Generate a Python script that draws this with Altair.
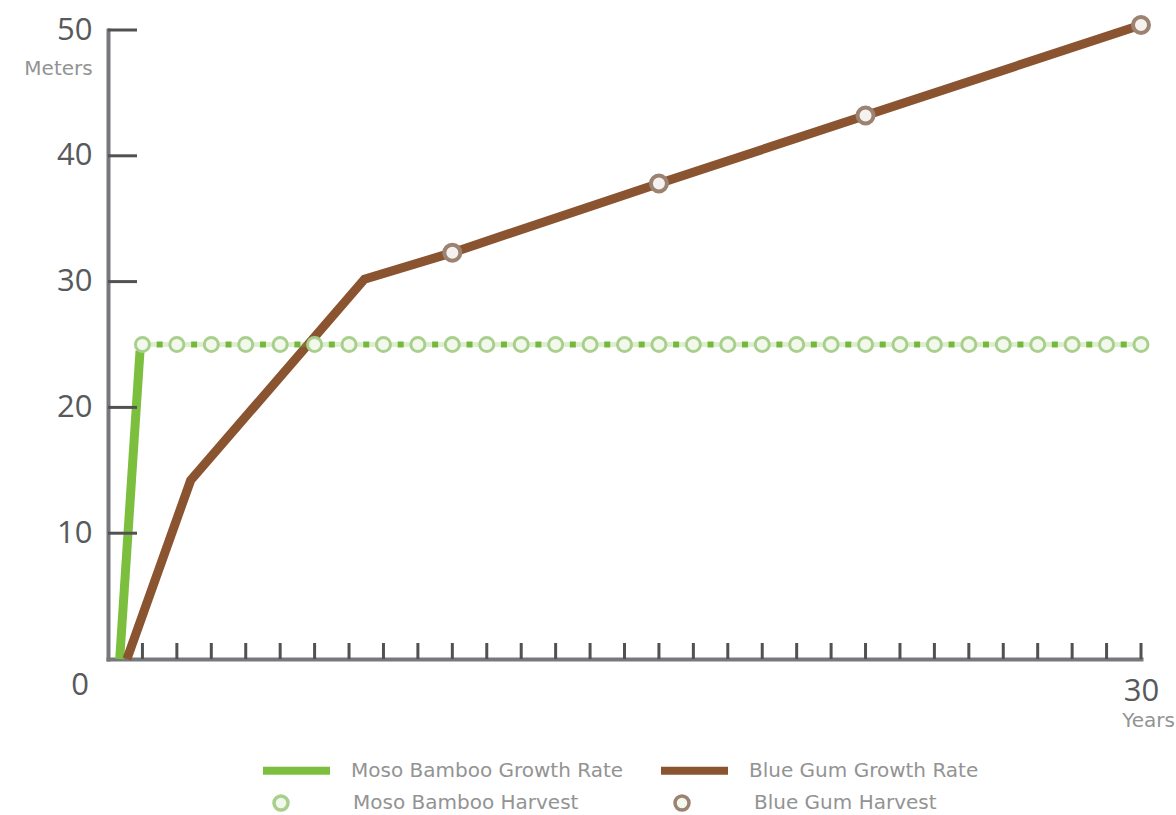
import altair as alt
import pandas as pd

# ---------------- data ----------------
years = [1, 2, 3, 4, 5, 6, 7, 8, 9, 10, 11, 12, 13, 14, 15,
         16, 17, 18, 19, 20, 21, 22, 23, 24, 25, 26, 27, 28, 29, 30]

bamboo_growth_year = [0.34, 0.93]
bamboo_growth_m = [0, 24.5]

bamboo_harvest_year = years
bamboo_harvest_m = [25, 25, 25, 25, 25, 25, 25, 25, 25, 25, 25, 25, 25, 25, 25,
                    25, 25, 25, 25, 25, 25, 25, 25, 25, 25, 25, 25, 25, 25, 25]

gum_growth_year = [0.55, 2.4, 7.45, 10, 16, 22, 30]
gum_growth_m = [0, 14.2, 30.2, 32.3, 37.8, 43.2, 50.4]

gum_harvest_year = [10, 16, 22, 30]
gum_harvest_m = [32.3, 37.8, 43.2, 50.4]

y_tick_values = [10, 20, 30, 40, 50]
x_tick_values = years
x_label_values = [30]
origin_label = ["0"]

growth_names = ["Moso Bamboo Growth Rate", "Blue Gum Growth Rate"]
harvest_names = ["Moso Bamboo Harvest", "Blue Gum Harvest"]

# ---------------- styling ----------------
GREEN = "#7cbf3f"
GREEN_DASH = "#74b83c"
BROWN = "#8a5430"
GREEN_RING = "#a9cf8d"
BROWN_RING = "#9c8270"
AXIS = "#77787b"
TICK = "#505153"
LABEL = "#58595b"
LEGEND_TEXT = "#939393"
NUM_FONT = "Open Sans"
TXT_FONT = "DejaVu Sans"

W, H = 1033, 629

growth_df = pd.concat([
    pd.DataFrame({"year": bamboo_growth_year, "m": bamboo_growth_m,
                  "series": growth_names[0], "i": range(len(bamboo_growth_year))}),
    pd.DataFrame({"year": gum_growth_year, "m": gum_growth_m,
                  "series": growth_names[1], "i": range(len(gum_growth_year))}),
])
bamboo_h_df = pd.DataFrame({"year": bamboo_harvest_year, "m": bamboo_harvest_m,
                            "series": harvest_names[0]})
gum_h_df = pd.DataFrame({"year": gum_harvest_year, "m": gum_harvest_m,
                         "series": harvest_names[1]})
ytick_df = pd.DataFrame({"m": y_tick_values})
xtick_df = pd.DataFrame({"year": x_tick_values})
origin_df = pd.DataFrame({"label": origin_label})

x_scale = alt.Scale(domain=[0, 30], nice=False, zero=True)
y_scale = alt.Scale(domain=[0, 50], nice=False, zero=True)

x_axis = alt.Axis(values=x_label_values, ticks=False, tickSize=0, grid=False,
                  domainColor=AXIS, domainWidth=4, domainCap="square",
                  labelFont=NUM_FONT, labelFontSize=31, labelColor=LABEL,
                  labelPadding=17, labelFlush=False,
                  title="Years", titleFont=TXT_FONT, titleFontSize=20,
                  titleFontWeight="normal", titleColor=LEGEND_TEXT,
                  titleAlign="center", titleBaseline="middle",
                  titleX=1040, titleY=61)
y_axis = alt.Axis(values=y_tick_values, ticks=False, tickSize=0, grid=False,
                  domainColor=AXIS, domainWidth=4, domainCap="square",
                  labelFont=NUM_FONT, labelFontSize=31, labelColor=LABEL,
                  labelPadding=16, labelFlush=False,
                  title="Meters", titleFont=TXT_FONT, titleFontSize=20,
                  titleFontWeight="normal", titleColor=LEGEND_TEXT,
                  titleAngle=0, titleAlign="center", titleBaseline="middle",
                  titleX=-50, titleY=38)

X = alt.X("year:Q", scale=x_scale, axis=x_axis)
Y = alt.Y("m:Q", scale=y_scale, axis=y_axis)

growth_legend = alt.Legend(title=None, orient="none", direction="horizontal",
                           legendX=151, legendY=703, padding=0,
                           symbolType="stroke", symbolSize=4489,
                           symbolStrokeWidth=8, labelOffset=17,
                           columnPadding=21,
                           labelFont=TXT_FONT, labelFontSize=20,
                           labelColor=LEGEND_TEXT, labelLimit=400)
harvest_legend = alt.Legend(title=None, orient="none", direction="horizontal",
                            legendX=163, legendY=763, padding=0,
                            symbolType="circle", symbolSize=196,
                            symbolStrokeWidth=3.5, symbolFillColor="white",
                            labelOffset=62, columnPadding=89,
                            labelFont=TXT_FONT, labelFontSize=20,
                            labelColor=LEGEND_TEXT, labelLimit=400)

growth_lines = alt.Chart(growth_df).mark_line(strokeWidth=9).encode(
    x=X, y=Y,
    color=alt.Color("series:N",
                    scale=alt.Scale(domain=growth_names, range=[GREEN, BROWN]),
                    legend=growth_legend),
    order="i:Q",
)

bamboo_faint = alt.Chart(bamboo_h_df).mark_line(
    color=GREEN, strokeWidth=5, opacity=0.25).encode(x=X, y=Y)
bamboo_dash = alt.Chart(bamboo_h_df).mark_line(
    color=GREEN_DASH, strokeWidth=6, strokeCap="butt",
    strokeDash=[6, 28.43], strokeDashOffset=20.2).encode(x=X, y=Y)

harvest_stroke = alt.Stroke("series:N",
                            scale=alt.Scale(domain=harvest_names,
                                            range=[GREEN_RING, BROWN_RING]),
                            legend=harvest_legend)

bamboo_pts = alt.Chart(bamboo_h_df).mark_point(
    shape="circle", size=196, strokeWidth=3, fill="#f3f8ec", opacity=1,
    filled=False).encode(x=X, y=Y, stroke=harvest_stroke)
gum_pts = alt.Chart(gum_h_df).mark_point(
    shape="circle", size=256, strokeWidth=4, fill="#f4f1ee", opacity=1,
    filled=False).encode(x=X, y=Y, stroke=harvest_stroke)

y_ticks = alt.Chart(ytick_df).mark_rule(color=TICK, strokeWidth=3).encode(
    y=Y, x=alt.value(0), x2=alt.value(29))
x_ticks = alt.Chart(xtick_df).mark_rule(color=TICK, strokeWidth=3).encode(
    x=X, y=alt.value(H), y2=alt.value(H - 16))

origin_text = alt.Chart(origin_df).mark_text(
    font=NUM_FONT, fontSize=31, color=LABEL, dx=-28, dy=27).encode(
    x=alt.datum(0, scale=x_scale), y=alt.datum(0, scale=y_scale),
    text="label:N")

chart = alt.layer(
    growth_lines, bamboo_faint, bamboo_dash, bamboo_pts, gum_pts,
    y_ticks, x_ticks, origin_text,
).properties(
    width=W, height=H,
    autosize=alt.AutoSizeParams(type="none"),
    padding={"left": 108, "top": 30, "right": 35, "bottom": 156},
    background="white",
).configure_view(stroke=None)

chart.save("out.html", embed_options={"renderer": "svg", "actions": False})
